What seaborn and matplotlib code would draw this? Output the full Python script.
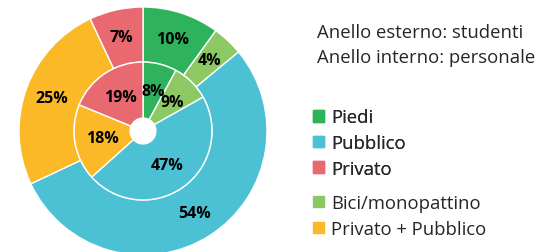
import matplotlib
matplotlib.use("Agg")
import matplotlib.pyplot as plt
from matplotlib.patches import Patch
import seaborn as sns

# Dati (percentuali), in senso orario partendo dall'alto
categorie = ["Piedi", "Bici/monopattino", "Pubblico", "Privato + Pubblico", "Privato"]
studenti = [10, 4, 54, 25, 7]      # anello esterno
personale = [8, 9, 47, 18, 19]     # anello interno
colori = ["#2eb35c", "#8cc864", "#4cc1d3", "#fbb928", "#e8696f"]

# ordine della legenda
legenda_1 = ["Piedi", "Pubblico", "Privato"]
legenda_2 = ["Bici/monopattino", "Privato + Pubblico"]

sns.set_theme(style="white")
plt.rcParams["font.family"] = ["Open Sans", "DejaVu Sans"]

fig = plt.figure(figsize=(5.41, 2.53), dpi=100)
ax = fig.add_axes([19 / 541, -3 / 253, 248 / 541, 248 / 253])

wedge = dict(edgecolor="white", linewidth=1)
txt = dict(ha="center", va="center", fontsize=11.5, fontweight="bold", color="black")

# Anello esterno: studenti
ax.pie(studenti, radius=1.0, colors=colori, startangle=90, counterclock=False,
       labels=[f"{v}%" for v in studenti], labeldistance=0.78,
       wedgeprops=dict(width=0.444, **wedge), textprops=txt)

# Anello interno: personale
ax.pie(personale, radius=0.556, colors=colori, startangle=90, counterclock=False,
       labels=[f"{v}%" for v in personale], labeldistance=0.6,
       wedgeprops=dict(width=0.452, **wedge), textprops=txt)

ax.set_xlim(-1, 1)
ax.set_ylim(-1, 1)
ax.set_aspect("equal")

# Titoli
fs = 13.3
fig.text(317 / 541, 1 - 33 / 253, "Anello esterno: studenti", fontsize=fs, va="center")
fig.text(317 / 541, 1 - 58 / 253, "Anello interno: personale", fontsize=fs, va="center")

col = dict(zip(categorie, colori))
leg_kw = dict(frameon=False, fontsize=fs, handlelength=0.6, handleheight=0.6,
              handletextpad=0.4, borderpad=0, borderaxespad=0, labelspacing=0.42,
              loc="center left")

leg1 = fig.legend([Patch(color=col[c]) for c in legenda_1], legenda_1,
                  bbox_to_anchor=(313 / 541, 1 - 144 / 253), **leg_kw)
fig.add_artist(leg1)
fig.legend([Patch(color=col[c]) for c in legenda_2], legenda_2,
           bbox_to_anchor=(313 / 541, 1 - 217 / 253), **leg_kw)

fig.savefig("out.png", dpi=100)
